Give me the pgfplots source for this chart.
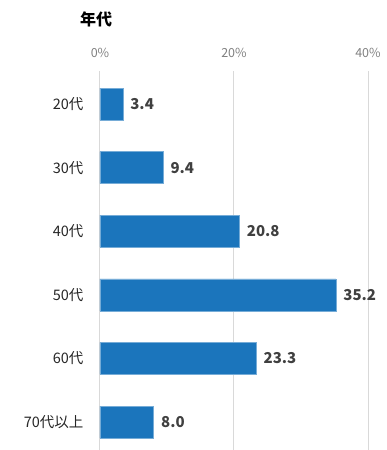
\documentclass[border=0pt]{standalone}
\usepackage{fontspec}
\setmainfont{Noto Sans CJK JP}
\usepackage{pgfplots}
\pgfplotsset{compat=1.18}
\definecolor{barblue}{HTML}{1B75BC}
\definecolor{gridgray}{HTML}{D9D9D9}
\definecolor{ticktext}{HTML}{808080}
\definecolor{valtext}{HTML}{404040}
\definecolor{cattext}{HTML}{262626}
\begin{document}
\begin{tikzpicture}
\path[use as bounding box] (-100pt,0pt) rectangle (287pt,450pt);
\begin{axis}[
  at={(0pt,0pt)}, anchor=south west,
  scale only axis,
  width=268pt, height=379pt,
  xmin=0, xmax=40,
  ymin=-0.44, ymax=5.52,
  xbar, bar width=32pt,
  axis line style={draw=none},
  major tick length=0pt,
  xtick={0,20,40},
  xticklabels={0\%,20\%,40\%},
  xticklabel pos=upper,
  xticklabel style={font=\fontsize{12.5}{14}\selectfont, text=ticktext, yshift=10pt},
  xmajorgrids,
  grid style={gridgray, line width=1pt},
  ytick={0,1,2,3,4,5},
  yticklabels={70代以上,60代,50代,40代,30代,20代},
  yticklabel style={font=\fontsize{14.5}{16}\selectfont, text=cattext, xshift=-13pt},
  clip=false,
  nodes near coords,
  point meta=explicit symbolic,
  nodes near coords style={font=\bfseries\fontsize{15}{17}\selectfont, text=valtext, anchor=west, xshift=4pt},
]
\addplot[fill=barblue, draw=barblue!60!white, line width=0.5pt] coordinates {
  (8.0,0) [8.0]
  (23.3,1) [23.3]
  (35.2,2) [35.2]
  (20.8,3) [20.8]
  (9.4,4) [9.4]
  (3.4,5) [3.4]
};
\node[anchor=base west, font=\bfseries\fontsize{16}{18}\selectfont, text=black, inner sep=0pt] at (-20pt,424pt) {年代};
\end{axis}
\end{tikzpicture}%
\end{document}
